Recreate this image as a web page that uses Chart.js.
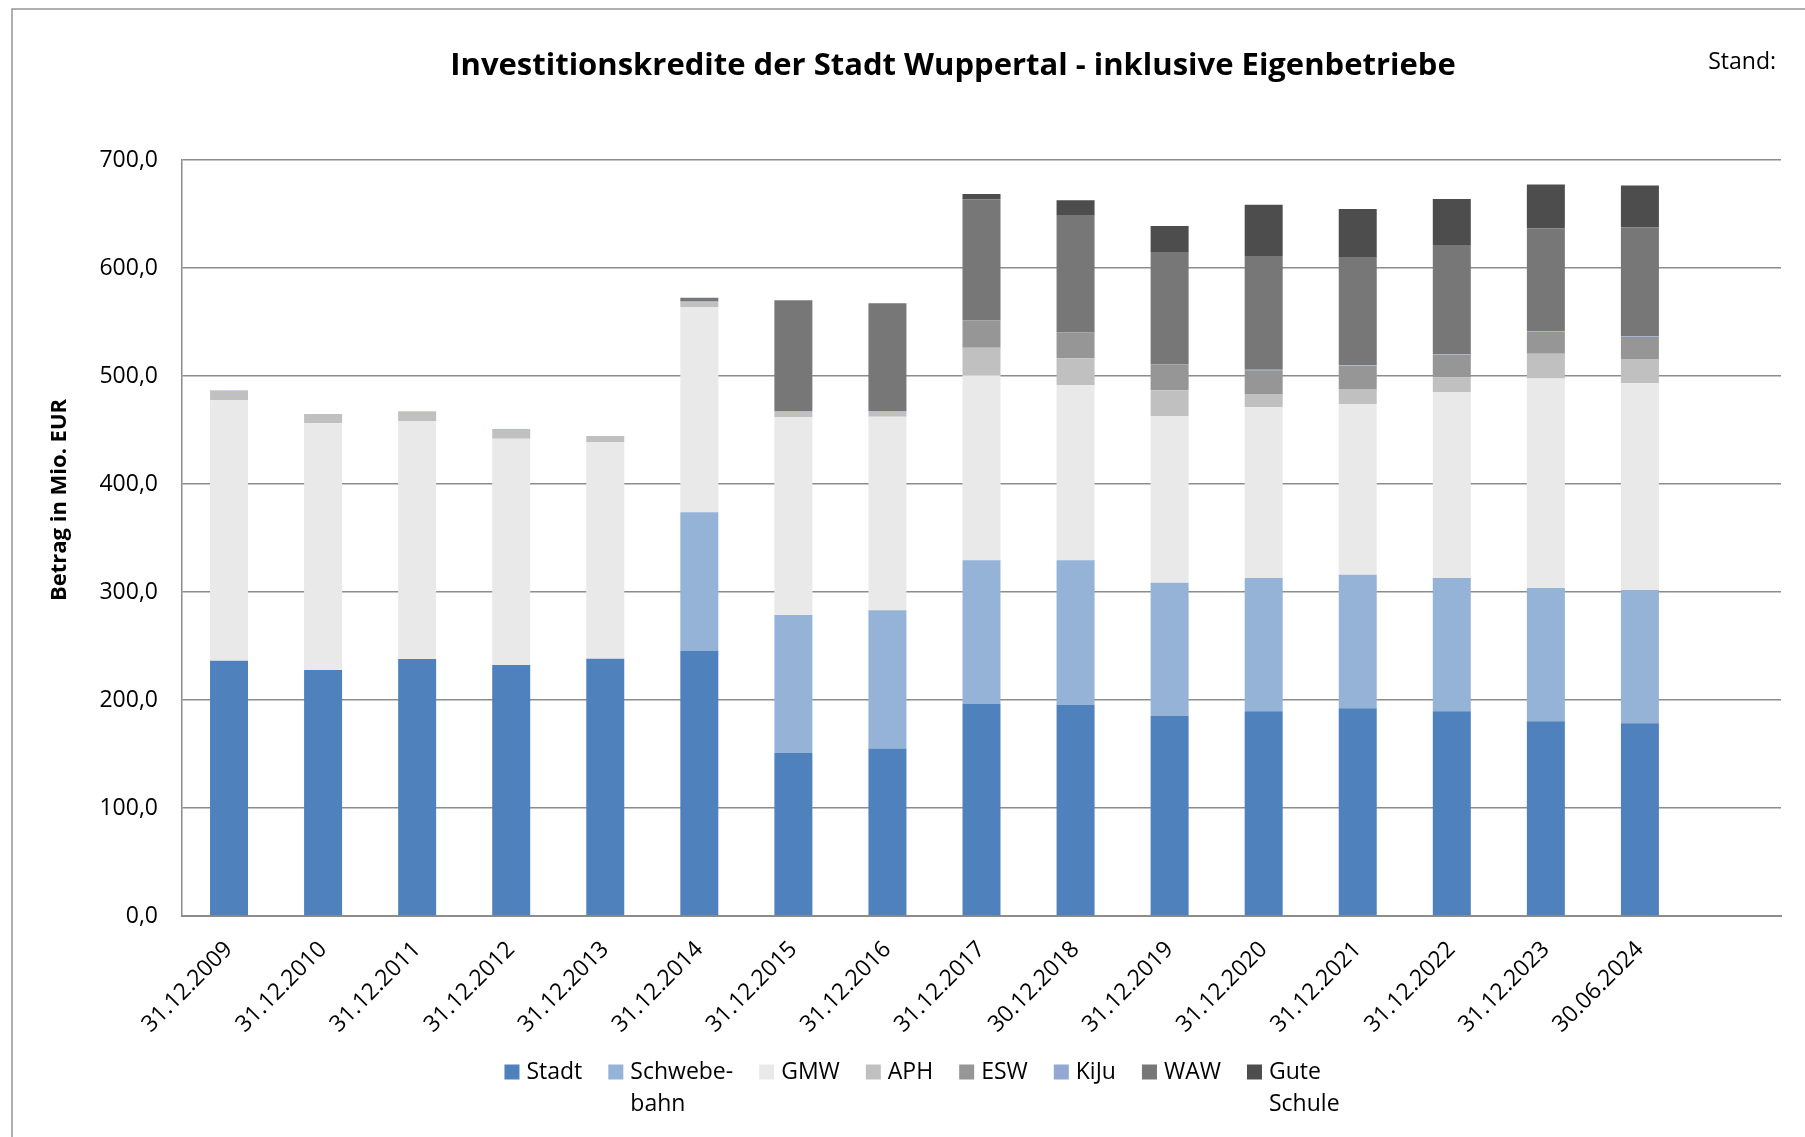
<!DOCTYPE html>
<html>
<head>
<meta charset="utf-8">
<script src="https://cdn.jsdelivr.net/npm/chart.js@4.4.1/dist/chart.umd.min.js"></script>
<style>
    html, body { margin: 0; padding: 0; background: #fff; }
    #wrap { position: relative; width: 1805px; height: 1137px; }
</style>
</head>
<body>
<div id="wrap"><canvas id="kredite-chart" width="1805" height="1137"></canvas></div>
<script>
// Stichtage (x axis)
const dates = [
    '31.12.2009', '31.12.2010', '31.12.2011', '31.12.2012', '31.12.2013', '31.12.2014',
    '31.12.2015', '31.12.2016', '31.12.2017', '30.12.2018', '31.12.2019', '31.12.2020',
    '31.12.2021', '31.12.2022', '31.12.2023', '30.06.2024'
];

// Betrag in Mio. EUR, per Bereich
const stadt       = [236.4, 227.8, 237.9, 232.4, 238.2, 245.3, 151.0, 155.0, 196.2, 195.7, 185.2, 189.5, 192.3, 189.5, 180.3, 178.4];
const schwebebahn = [0, 0, 0, 0, 0, 128.5, 127.7, 128.0, 133.1, 133.6, 123.4, 123.5, 123.7, 123.5, 123.4, 123.5];
const gmw         = [241.1, 228.4, 220.4, 209.6, 200.7, 190.2, 183.3, 179.3, 171.3, 162.1, 154.1, 158.0, 158.1, 172.2, 194.1, 191.3];
const aph         = [8.6, 8.6, 8.4, 8.0, 5.5, 4.0, 5.0, 4.7, 25.6, 25.0, 24.0, 12.3, 13.9, 13.3, 22.9, 22.5];
const esw         = [0, 0, 0, 0, 0, 1.0, 0, 0, 25.3, 24.0, 24.1, 22.0, 21.5, 21.3, 20.1, 20.4];
const kiju        = [0.5, 0, 0.4, 0.6, 0, 0.5, 0.5, 0.5, 0, 0, 0, 0.6, 0.4, 0.6, 0.6, 0.6];
const waw         = [0, 0, 0, 0, 0, 3.0, 102.6, 99.8, 112.1, 108.7, 104.0, 105.2, 99.7, 100.9, 95.3, 101.0];
const guteSchule  = [0, 0, 0, 0, 0, 0, 0, 0, 4.9, 13.6, 24.1, 47.5, 45.0, 42.6, 40.5, 38.8];

const seriesNames = ['Stadt', 'Schwebebahn', 'GMW', 'APH', 'ESW', 'KiJu', 'WAW', 'Gute Schule'];
const legendLines = [['Stadt'], ['Schwebe-', 'bahn'], ['GMW'], ['APH'], ['ESW'], ['KiJu'], ['WAW'], ['Gute', 'Schule']];
const seriesColors = ['#4F81BD', '#95B3D7', '#E9E9E9', '#C0C0C0', '#969696', '#94A8D3', '#777777', '#4D4D4D'];
const seriesData = [stadt, schwebebahn, gmw, aph, esw, kiju, waw, guteSchule];

const yTicks = [0, 100, 200, 300, 400, 500, 600, 700];

const FONT = '"Open Sans", "DejaVu Sans", sans-serif';

// frame, titles and the two-line legend
const decorPlugin = {
    id: 'decor',
    beforeDraw(chart) {
        const ctx = chart.ctx;
        ctx.save();
        ctx.strokeStyle = '#959595';
        ctx.lineWidth = 1.5;
        ctx.beginPath();
        ctx.moveTo(12, 1137);
        ctx.lineTo(12, 9);
        ctx.lineTo(1805, 9);
        ctx.stroke();
        ctx.restore();
    },
    afterDraw(chart) {
        const ctx = chart.ctx;
        ctx.save();
        ctx.fillStyle = '#000';
        ctx.textBaseline = 'middle';

        ctx.font = 'bold 31px ' + FONT;
        ctx.textAlign = 'center';
        ctx.fillText('Investitionskredite der Stadt Wuppertal - inklusive Eigenbetriebe', 953, 66);

        ctx.font = '23px ' + FONT;
        ctx.textAlign = 'right';
        ctx.fillText('Stand:', 1776, 62);

        ctx.save();
        ctx.translate(60, 500);
        ctx.rotate(-Math.PI / 2);
        ctx.font = 'bold 22px ' + FONT;
        ctx.textAlign = 'center';
        ctx.fillText('Betrag in Mio. EUR', 0, 0);
        ctx.restore();

        // legend
        ctx.font = '23px ' + FONT;
        ctx.textAlign = 'left';
        const box = 15, boxGap = 7, itemGap = 26, lineH = 32, y0 = 1072;
        const widths = legendLines.map((lines) => Math.max(...lines.map((t) => ctx.measureText(t).width)));
        const total = widths.reduce((a, w) => a + box + boxGap + w, 0) + itemGap * (widths.length - 1);
        let x = 922 - total / 2;
        legendLines.forEach((lines, i) => {
            ctx.fillStyle = seriesColors[i];
            ctx.fillRect(x, y0 - box / 2, box, box);
            ctx.fillStyle = '#000';
            lines.forEach((t, j) => ctx.fillText(t, x + box + boxGap, y0 + j * lineH));
            x += box + boxGap + widths[i] + itemGap;
        });
        ctx.restore();
    }
};

new Chart(document.getElementById('kredite-chart'), {
    type: 'bar',
    data: {
        labels: [...dates, ''],
        datasets: seriesNames.map((name, i) => ({
            label: name,
            data: seriesData[i],
            backgroundColor: seriesColors[i],
            borderWidth: 0,
            categoryPercentage: 1,
            barPercentage: 0.404,
        })),
    },
    options: {
        responsive: false,
        animation: false,
        devicePixelRatio: 1,
        layout: { padding: { left: 12, right: 24, top: 160, bottom: 0 } },
        plugins: {
            legend: { display: false },
            title: { display: false },
            tooltip: { enabled: false },
        },
        scales: {
            x: {
                stacked: true,
                grid: { display: false, drawTicks: false },
                border: { display: true, color: '#8c8c8c', width: 2 },
                ticks: {
                    minRotation: 45,
                    maxRotation: 45,
                    autoSkip: false,
                    padding: 20,
                    color: '#000',
                    font: { family: FONT, size: 23 },
                },
                afterFit(scale) { scale.height = 221; },
            },
            y: {
                stacked: true,
                min: 0,
                max: 700,
                afterBuildTicks(scale) { scale.ticks = yTicks.map((v) => ({ value: v })); },
                grid: { color: '#8c8c8c', lineWidth: 1.5, drawTicks: false },
                border: { display: true, color: '#8c8c8c', width: 1.5 },
                ticks: {
                    padding: 24,
                    color: '#000',
                    font: { family: FONT, size: 23 },
                    callback: (v) => v.toFixed(1).replace('.', ','),
                },
                afterFit(scale) { scale.width = 170; },
            },
        },
    },
    plugins: [decorPlugin],
});
</script>
</body>
</html>
